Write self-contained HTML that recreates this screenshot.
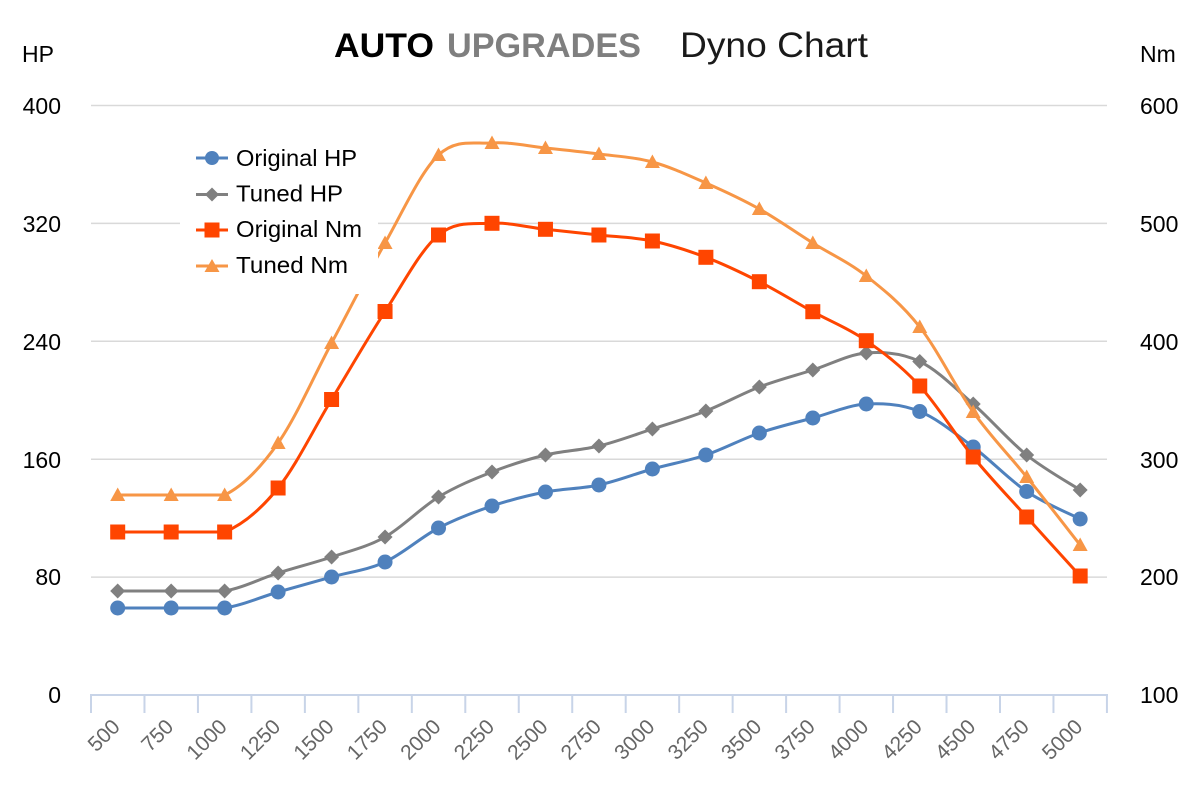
<!DOCTYPE html>
<html>
<head>
<meta charset="utf-8">
<style>
  html,body{margin:0;padding:0;background:#fff;}
  svg{display:block;}
  text{font-family:"Liberation Sans", Arial, sans-serif;}
</style>
</head>
<body>
<svg id="chart" width="1200" height="800" viewBox="0 0 1200 800" xmlns="http://www.w3.org/2000/svg">
  <rect x="0" y="0" width="1200" height="800" fill="#ffffff"/>
  <!-- gridlines -->
  <g stroke="#d9d9d9" stroke-width="1.5">
    <line x1="91" y1="105.5" x2="1107" y2="105.5"/>
    <line x1="91" y1="223.4" x2="1107" y2="223.4"/>
    <line x1="91" y1="341.3" x2="1107" y2="341.3"/>
    <line x1="91" y1="459.2" x2="1107" y2="459.2"/>
    <line x1="91" y1="577.1" x2="1107" y2="577.1"/>
  </g>
  <!-- x axis -->
  <g stroke="#c8d4e8" stroke-width="2" id="xaxis">
    <line x1="90" y1="695" x2="1108" y2="695"/>
  </g>

  <!-- title -->
  <text x="334" y="57" font-size="34" font-weight="bold" fill="#000" textLength="100" lengthAdjust="spacingAndGlyphs">AUTO</text>
  <text x="447" y="57" font-size="34" font-weight="bold" fill="#7f7f7f" textLength="194" lengthAdjust="spacingAndGlyphs">UPGRADES</text>
  <text x="680" y="57" font-size="35" fill="#1a1a1a" textLength="188" lengthAdjust="spacingAndGlyphs">Dyno Chart</text>

  <!-- axis titles -->
  <text x="22" y="62" font-size="23" fill="#000">HP</text>
  <text x="1140" y="62" font-size="23" fill="#000">Nm</text>

  <!-- left tick labels -->
  <g font-size="23" fill="#000" text-anchor="end">
    <text x="61" y="114">400</text>
    <text x="61" y="232">320</text>
    <text x="61" y="350">240</text>
    <text x="61" y="468">160</text>
    <text x="61" y="585">80</text>
    <text x="61" y="703">0</text>
  </g>
  <!-- right tick labels -->
  <g font-size="23" fill="#000" text-anchor="start">
    <text x="1140" y="114">600</text>
    <text x="1140" y="232">500</text>
    <text x="1140" y="350">400</text>
    <text x="1140" y="468">300</text>
    <text x="1140" y="585">200</text>
    <text x="1140" y="703">100</text>
  </g>

  <!-- x labels -->
  <g font-size="21" fill="#666666" text-anchor="end">
    <text transform="translate(121.2,728) rotate(-45)">500</text>
    <text transform="translate(174.7,728) rotate(-45)">750</text>
    <text transform="translate(228.1,728) rotate(-45)">1000</text>
    <text transform="translate(281.6,728) rotate(-45)">1250</text>
    <text transform="translate(335.1,728) rotate(-45)">1500</text>
    <text transform="translate(388.5,728) rotate(-45)">1750</text>
    <text transform="translate(442.0,728) rotate(-45)">2000</text>
    <text transform="translate(495.5,728) rotate(-45)">2250</text>
    <text transform="translate(549.0,728) rotate(-45)">2500</text>
    <text transform="translate(602.4,728) rotate(-45)">2750</text>
    <text transform="translate(655.9,728) rotate(-45)">3000</text>
    <text transform="translate(709.4,728) rotate(-45)">3250</text>
    <text transform="translate(762.8,728) rotate(-45)">3500</text>
    <text transform="translate(816.3,728) rotate(-45)">3750</text>
    <text transform="translate(869.8,728) rotate(-45)">4000</text>
    <text transform="translate(923.3,728) rotate(-45)">4250</text>
    <text transform="translate(976.7,728) rotate(-45)">4500</text>
    <text transform="translate(1030.2,728) rotate(-45)">4750</text>
    <text transform="translate(1083.7,728) rotate(-45)">5000</text>
  </g>

  <g id="series"></g>

  <!-- legend -->
  <g id="legend">
    <rect x="180" y="138" width="198" height="156" fill="#ffffff"/>
    <line x1="196" y1="158" x2="228" y2="158" stroke="#4f81bd" stroke-width="3"/>
    <circle cx="212" cy="158" r="7" fill="#4f81bd"/>
    <line x1="196" y1="194.5" x2="228" y2="194.5" stroke="#808080" stroke-width="3"/>
    <polygon points="212,187.5 219,194.5 212,201.5 205,194.5" fill="#808080"/>
    <line x1="196" y1="230" x2="228" y2="230" stroke="#ff4500" stroke-width="3"/>
    <rect x="204.5" y="222.5" width="15" height="15" fill="#ff4500"/>
    <line x1="196" y1="266" x2="228" y2="266" stroke="#f79646" stroke-width="3"/>
    <polygon points="212,259 219.5,272 204.5,272" fill="#f79646"/>
    <g font-size="23.5" fill="#000">
      <text x="236" y="166" textLength="121" lengthAdjust="spacingAndGlyphs">Original HP</text>
      <text x="236" y="201.5" textLength="107" lengthAdjust="spacingAndGlyphs">Tuned HP</text>
      <text x="236" y="237" textLength="126" lengthAdjust="spacingAndGlyphs">Original Nm</text>
      <text x="236" y="273" textLength="112" lengthAdjust="spacingAndGlyphs">Tuned Nm</text>
    </g>
  </g>
</svg>
<script>
(function(){
  var NS="http://www.w3.org/2000/svg";
  var xa=document.getElementById('xaxis');
  for(var k=0;k<=19;k++){
    var x=91+53.47*k;
    var l=document.createElementNS(NS,'line');
    l.setAttribute('x1',x);l.setAttribute('x2',x);
    l.setAttribute('y1',695);l.setAttribute('y2',713);
    xa.appendChild(l);
  }
  var cx=[];for(var i=0;i<19;i++)cx.push(117.7+53.47*i);
  var data=[
    {c:"#4f81bd",m:"circle",y:[608,608,608,592,577,562,528,506,492,485,469,455,433,418,404,411.5,447,491.5,519]},
    {c:"#808080",m:"diamond",y:[591,591,591,573,557,537,497,472,455,446,429,411,387,370,353,361.5,404,455,490]},
    {c:"#ff4500",m:"square",y:[532,532,532,488,399.5,311.5,235,223.3,229.3,235,241,257.3,281.7,311.7,340.7,386,457,517,576]},
    {c:"#f79646",m:"triangle",y:[495,495,495,443,343,243,155,143,148,154,162,183,209,243,276,327,412,477,545]}
  ];
  var g=document.getElementById('series');
  data.forEach(function(s){
    var p=s.y.map(function(v,i){return [cx[i],v];});
    var d="M"+p[0][0].toFixed(2)+","+p[0][1].toFixed(2);
    for(var i=0;i<p.length-1;i++){
      var p0=p[i-1]||p[i],p1=p[i],p2=p[i+1],p3=p[i+2]||p[i+1];
      var c1=[p1[0]+(p2[0]-p0[0])/6,p1[1]+(p2[1]-p0[1])/6];
      var c2=[p2[0]-(p3[0]-p1[0])/6,p2[1]-(p3[1]-p1[1])/6];
      if(p1[1]===p2[1]){c1[1]=p1[1];c2[1]=p2[1];}
      d+=" C"+c1[0].toFixed(2)+","+c1[1].toFixed(2)+" "+c2[0].toFixed(2)+","+c2[1].toFixed(2)+" "+p2[0].toFixed(2)+","+p2[1].toFixed(2);
    }
    var path=document.createElementNS(NS,'path');
    path.setAttribute('d',d);path.setAttribute('fill','none');
    path.setAttribute('stroke',s.c);path.setAttribute('stroke-width','3');
    path.setAttribute('stroke-linejoin','round');path.setAttribute('stroke-linecap','round');
    g.appendChild(path);
    p.forEach(function(pt){
      var x=pt[0],y=pt[1],e;
      if(s.m==="circle"){
        e=document.createElementNS(NS,'circle');
        e.setAttribute('cx',x);e.setAttribute('cy',y);e.setAttribute('r',7.5);
      }else if(s.m==="square"){
        e=document.createElementNS(NS,'rect');
        e.setAttribute('x',x-7.5);e.setAttribute('y',y-7.5);
        e.setAttribute('width',15);e.setAttribute('height',15);
      }else if(s.m==="diamond"){
        e=document.createElementNS(NS,'polygon');
        e.setAttribute('points',x+","+(y-7.5)+" "+(x+7.5)+","+y+" "+x+","+(y+7.5)+" "+(x-7.5)+","+y);
      }else{
        e=document.createElementNS(NS,'polygon');
        e.setAttribute('points',x+","+(y-7.5)+" "+(x+7.5)+","+(y+6)+" "+(x-7.5)+","+(y+6));
      }
      e.setAttribute('fill',s.c);
      g.appendChild(e);
    });
  });
})();
</script>
</body>
</html>
